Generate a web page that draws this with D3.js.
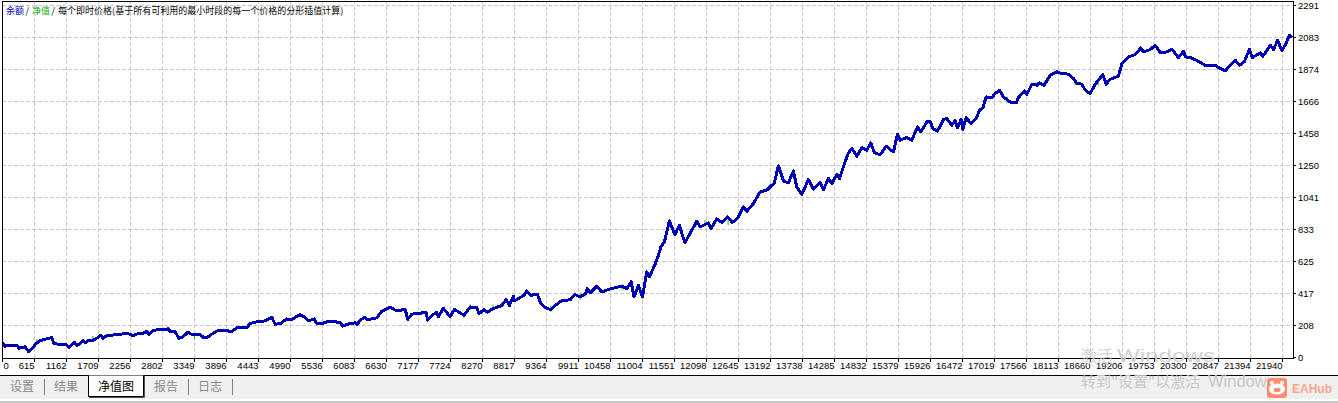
<!DOCTYPE html>
<html>
<head>
<meta charset="utf-8">
<script src="https://cdn.jsdelivr.net/npm/d3@7"></script>
<style>
body { margin: 0; background: #fff; overflow: hidden; }
svg { display: block; }
text { font-family: "Liberation Sans", sans-serif; }
.cjk { font-family: "Noto Sans CJK SC", sans-serif; }
</style>
</head>
<body>
<svg id="chart"></svg>
<script>
const xLabels = [0, 615, 1162, 1709, 2256, 2802, 3349, 3896, 4443, 4990, 5536, 6083, 6630, 7177, 7724, 8270, 8817, 9364, 9911, 10458, 11004, 11551, 12098, 12645, 13192, 13738, 14285, 14832, 15379, 15926, 16472, 17019, 17566, 18113, 18660, 19206, 19753, 20300, 20847, 21394, 21940];
const yLabels = [0, 208, 417, 625, 833, 1041, 1250, 1458, 1666, 1874, 2083, 2291];

// trade number and balance
const trades = [13, 58, 186, 288, 326, 403, 442, 518, 595, 649, 718, 803, 918, 957, 1025, 1157, 1208, 1299, 1355, 1452, 1504, 1526, 1623, 1709, 1760, 1794, 1857, 2028, 2222, 2307, 2392, 2456, 2541, 2580, 2666, 2905, 2951, 3025, 3093, 3156, 3247, 3310, 3452, 3520, 3572, 3652, 3743, 3845, 3994, 4084, 4255, 4307, 4443, 4563, 4677, 4734, 4819, 4934, 5019, 5161, 5246, 5303, 5400, 5446, 5532, 5640, 5725, 5845, 5884, 6016, 6101, 6140, 6186, 6272, 6311, 6472, 6557, 6699, 6814, 6956, 7002, 7070, 7314, 7343, 7412, 7497, 7525, 7610, 7725, 7798, 7866, 7964, 8066, 8181, 8220, 8306, 8362, 8465, 8608, 8682, 8738, 8806, 8823, 8989, 9035, 9104, 9217, 9274, 9348, 9445, 9548, 9633, 9775, 9861, 9946, 10043, 10071, 10117, 10232, 10317, 10459, 10659, 10744, 10818, 10869, 10943, 11011, 11086, 11131, 11228, 11285, 11330, 11387, 11472, 11565, 11643, 11736, 11838, 11940, 11997, 12139, 12185, 12282, 12368, 12463, 12549, 12634, 12737, 12795, 12908, 13022, 13137, 13222, 13262, 13335, 13421, 13506, 13591, 13649, 13735, 13848, 13933, 14048, 14104, 14190, 14248, 14333, 14378, 14475, 14531, 14589, 14675, 14761, 14846, 14914, 14971, 15073, 15176, 15301, 15369, 15415, 15530, 15615, 15711, 15769, 15871, 15928, 15974, 16053, 16155, 16213, 16299, 16355, 16394, 16457, 16486, 16543, 16623, 16714, 16770, 16828, 16885, 16982, 17039, 17112, 17181, 17266, 17324, 17398, 17437, 17540, 17580, 17666, 17752, 17791, 17876, 17979, 18093, 18179, 18292, 18377, 18435, 18521, 18577, 18662, 18748, 18879, 18936, 19004, 19146, 19204, 19317, 19431, 19529, 19573, 19688, 19773, 19858, 19973, 20059, 20171, 20257, 20291, 20371, 20457, 20628, 20799, 20855, 20970, 21026, 21141, 21214, 21294, 21385, 21431, 21568, 21614, 21739, 21796, 21864, 21939, 22012, 22069, 22110];
const balance = [95, 74, 78, 80, 61, 67, 69, 36, 65, 91, 108, 119, 130, 91, 87, 87, 65, 100, 78, 108, 95, 108, 113, 130, 145, 126, 141, 150, 156, 141, 156, 154, 169, 152, 178, 186, 167, 167, 126, 134, 165, 150, 150, 128, 130, 152, 173, 178, 169, 193, 195, 221, 234, 238, 262, 217, 219, 251, 247, 280, 260, 238, 251, 221, 221, 234, 232, 230, 204, 221, 225, 215, 243, 262, 245, 258, 301, 327, 303, 314, 249, 282, 293, 243, 273, 295, 264, 321, 264, 314, 297, 275, 329, 325, 286, 312, 295, 319, 338, 377, 338, 399, 368, 405, 433, 405, 412, 351, 325, 312, 347, 371, 375, 410, 394, 417, 449, 420, 464, 427, 446, 465, 449, 492, 394, 471, 394, 557, 525, 607, 666, 724, 752, 889, 800, 861, 746, 817, 887, 850, 876, 840, 902, 879, 915, 879, 905, 980, 952, 1002, 1078, 1089, 1121, 1132, 1247, 1149, 1136, 1214, 1110, 1061, 1158, 1095, 1139, 1093, 1165, 1132, 1191, 1165, 1273, 1332, 1360, 1310, 1367, 1349, 1397, 1334, 1320, 1375, 1338, 1453, 1414, 1432, 1414, 1501, 1468, 1533, 1538, 1490, 1473, 1549, 1555, 1512, 1544, 1494, 1549, 1484, 1562, 1523, 1555, 1609, 1624, 1696, 1692, 1718, 1740, 1696, 1670, 1657, 1657, 1692, 1735, 1712, 1779, 1772, 1787, 1772, 1837, 1859, 1848, 1844, 1816, 1783, 1779, 1740, 1718, 1779, 1842, 1779, 1811, 1831, 1912, 1956, 1972, 2015, 1989, 2004, 2032, 1985, 1989, 2006, 1952, 1993, 1956, 1952, 1939, 1902, 1902, 1887, 1865, 1891, 1935, 1902, 1924, 2006, 1952, 1982, 1961, 2032, 2004, 2065, 1995, 2047, 2098, 2083];

// equity only shows where it dips below the balance line
const equityTrades = [666, 1623, 3355, 8066, 8459, 9445, 9955, 10040, 10664, 11014, 11126, 11330, 11928, 12082, 12476, 16047, 16389, 17244, 17876, 18406, 18799];
const equityLows = [80, 100, 119, 305, 305, 298, 379, 396, 438, 383, 516, 692, 854, 854, 861, 1460, 1486, 1658, 1762, 1772, 1772];

const svgWidth = 1338;
const svgHeight = 403;
const plotLeft = 2, plotRight = 1293, plotTop = 1, plotBottom = 358;

const svg = d3.select('#chart').attr('width', svgWidth).attr('height', svgHeight);

const x = d3.scaleLinear().domain([0, 615, 21940]).range([plotLeft, 34, 1282]);
const y = d3.scaleLinear().domain([0, 2291]).range([357.5, 5.5]);

// rounded copies so the ticks and grid land on whole pixels
const xTick = x.copy().interpolate(d3.interpolateRound);
const yTick = d3.scaleLinear().domain([0, 2291]).range([357, 5]).interpolate(d3.interpolateRound);

// grid
svg.append('g')
    .attr('transform', 'translate(0,' + plotBottom + ')')
    .call(d3.axisTop(xTick).tickValues(xLabels.slice(1)).tickSize(plotBottom - plotTop).tickFormat(''))
    .call(g => g.select('.domain').remove())
    .selectAll('line')
    .attr('stroke', '#c8c8c8')
    .attr('stroke-dasharray', '4,2');

svg.append('g')
    .attr('transform', 'translate(' + plotLeft + ',0)')
    .call(d3.axisRight(yTick).tickValues(yLabels.slice(1)).tickSize(plotRight - plotLeft).tickFormat(''))
    .call(g => g.select('.domain').remove())
    .selectAll('line')
    .attr('stroke', '#c8c8c8')
    .attr('stroke-dasharray', '4,2');

// equity spots, then balance
svg.append('g')
    .selectAll('line')
    .data(equityTrades)
    .enter().append('line')
    .attr('x1', d => x(d))
    .attr('x2', d => x(d))
    .attr('y1', (d, i) => y(equityLows[i]))
    .attr('y2', (d, i) => y(equityLows[i] + 40))
    .attr('stroke', '#00b400')
    .attr('stroke-width', 1);

const balanceLine = d3.line()
    .x(d => x(d))
    .y((d, i) => y(balance[i]));

// no antialiasing, the terminal draws a hard pixel line
svg.append('path')
    .datum(trades)
    .attr('d', balanceLine)
    .attr('fill', 'none')
    .attr('stroke', '#0000b4')
    .attr('stroke-width', 3)
    .attr('stroke-linejoin', 'round')
    .attr('shape-rendering', 'crispEdges');

// frame and axes
svg.append('rect')
    .attr('x', plotLeft + 0.5)
    .attr('y', plotTop + 0.5)
    .attr('width', plotRight - plotLeft)
    .attr('height', plotBottom - plotTop)
    .attr('fill', 'none')
    .attr('stroke', '#000');

const xAxis = svg.append('g')
    .attr('transform', 'translate(0,' + plotBottom + ')')
    .call(d3.axisBottom(xTick).tickValues(xLabels).tickSize(4).tickFormat(d => d));
xAxis.select('.domain').remove();
xAxis.selectAll('text')
    .attr('y', 11)
    .attr('dy', 0)
    .attr('font-size', '9.5px')
    .attr('font-family', '"Liberation Sans", sans-serif')
    .attr('text-anchor', d => d === 0 ? 'start' : 'end')
    .attr('dx', d => d === 0 ? 1 : 0)
    .attr('fill', '#000');

const yAxis = svg.append('g')
    .attr('transform', 'translate(' + plotRight + ',0)')
    .call(d3.axisRight(yTick).tickValues(yLabels).tickSize(3).tickFormat(d => d));
yAxis.select('.domain').remove();
yAxis.selectAll('text')
    .attr('x', 5)
    .attr('font-size', '9.5px')
    .attr('font-family', '"Liberation Sans", sans-serif')
    .attr('fill', '#000');

// title line
const title = svg.append('text')
    .attr('class', 'cjk')
    .attr('x', 6)
    .attr('y', 13.5)
    .attr('font-size', '9px')
    .attr('fill', '#000');
title.append('tspan').attr('fill', '#0000b4').text('余额');
title.append('tspan').attr('dx', 1.5).text('/');
title.append('tspan').attr('dx', 3).attr('fill', '#00aa00').text('净值');
title.append('tspan').attr('dx', 1.5).text('/');
title.append('tspan').attr('dx', 3).text('每个即时价格(基于所有可利用的最小时段的每一个价格的分形插值计算)');

// tab bar
svg.append('rect').attr('x', 0).attr('y', 375).attr('width', svgWidth).attr('height', 24).attr('fill', '#f0f0f0');
svg.append('rect').attr('x', 0).attr('y', 401).attr('width', svgWidth).attr('height', 2).attr('fill', '#c8c8c8');
svg.append('line').attr('x1', 0).attr('x2', svgWidth).attr('y1', 375.5).attr('y2', 375.5).attr('stroke', '#000');

svg.append('path')
    .attr('d', 'M88.5,375.5V396.5H143.5V375.5')
    .attr('fill', '#fff')
    .attr('stroke', '#000');
svg.append('path')
    .attr('d', 'M89,397.5H144.5V376')
    .attr('fill', 'none')
    .attr('stroke', '#555');

const tabs = ['设置', '结果', '净值图', '报告', '日志'];
const tabX = [10, 54, 98, 154, 198];
const tabSeps = [44, 188, 232];

svg.selectAll('.tab')
    .data(tabs)
    .enter().append('text')
    .attr('class', 'tab cjk')
    .attr('x', (d, i) => tabX[i])
    .attr('y', 391)
    .attr('font-size', '12px')
    .attr('fill', d => d === '净值图' ? '#000' : '#8a8a8a')
    .text(d => d);

svg.selectAll('.sep')
    .data(tabSeps)
    .enter().append('line')
    .attr('class', 'sep')
    .attr('x1', d => d + 0.5)
    .attr('x2', d => d + 0.5)
    .attr('y1', 379)
    .attr('y2', 395)
    .attr('stroke', '#808080');

// activation watermark
svg.append('text')
    .attr('class', 'cjk')
    .attr('x', 1081)
    .attr('y', 362)
    .attr('font-size', '16px')
    .attr('fill', '#d0d0d0')
    .text('激活');
svg.append('text')
    .attr('x', 1117)
    .attr('y', 362)
    .attr('font-size', '19px')
    .attr('textLength', 98)
    .attr('lengthAdjust', 'spacingAndGlyphs')
    .attr('fill', '#d0d0d0')
    .text('Windows');
svg.append('text')
    .attr('class', 'cjk')
    .attr('x', 1081)
    .attr('y', 387)
    .attr('font-size', '15px')
    .attr('fill', '#c8c8c8')
    .text('转到"设置"以激活');
svg.append('text')
    .attr('x', 1208)
    .attr('y', 387)
    .attr('font-size', '16.5px')
    .attr('fill', '#c8c8c8')
    .text('Windows');

// EAHub logo
const logo = svg.append('g').attr('transform', 'translate(1267,378)');
logo.append('rect').attr('width', 20).attr('height', 20).attr('rx', 3).attr('fill', '#f98f70');
logo.append('circle').attr('cx', 5).attr('cy', 5).attr('r', 2).attr('fill', '#fff');
logo.append('circle').attr('cx', 15).attr('cy', 5).attr('r', 2).attr('fill', '#fff');
logo.append('ellipse').attr('cx', 10).attr('cy', 11).attr('rx', 8).attr('ry', 5.5).attr('fill', '#fff');
logo.append('ellipse').attr('cx', 10).attr('cy', 12).attr('rx', 3.5).attr('ry', 2.2).attr('fill', '#f98f70');
svg.append('text')
    .attr('x', 1292)
    .attr('y', 393)
    .attr('font-size', '12px')
    .attr('font-weight', 'bold')
    .attr('font-family', '"DejaVu Serif", serif')
    .attr('fill', '#f9a58f')
    .text('EAHub');
</script>
</body>
</html>
